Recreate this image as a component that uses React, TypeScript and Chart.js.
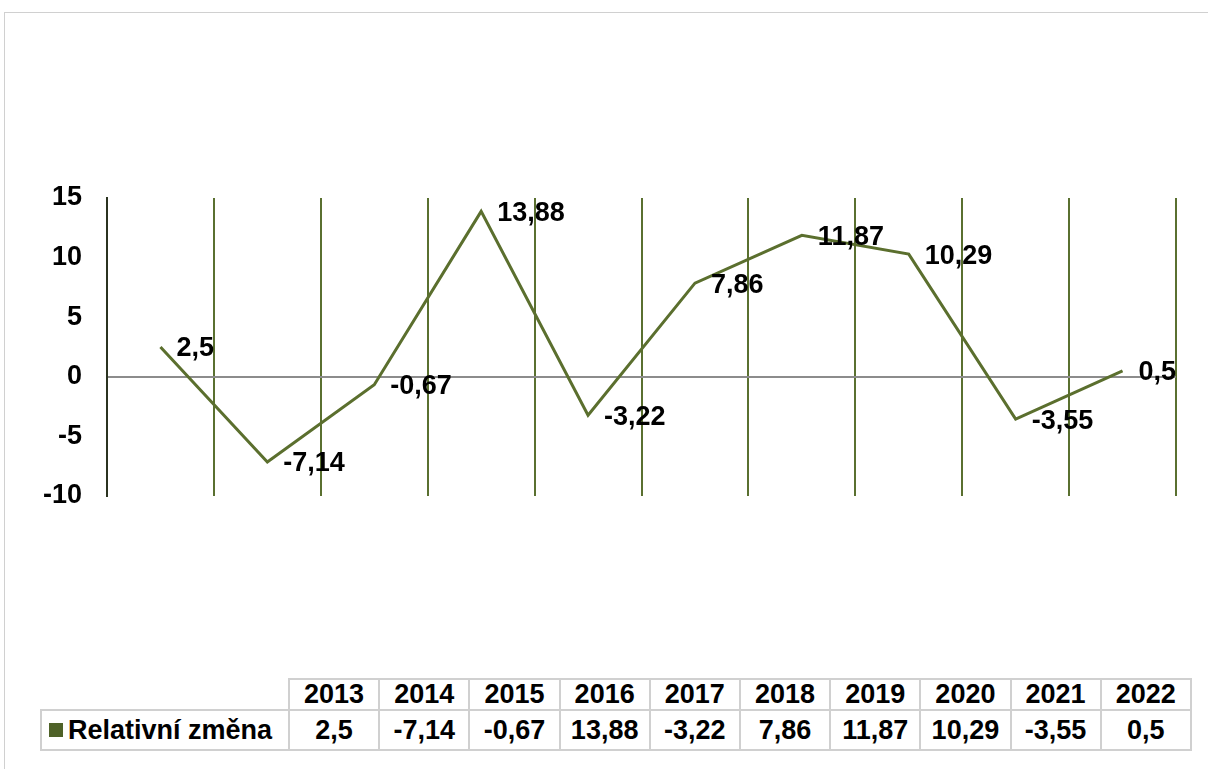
import React, { useEffect, useRef } from "react";
import { Chart, registerables } from "chart.js";

Chart.register(...registerables);

const years = ["2013", "2014", "2015", "2016", "2017", "2018", "2019", "2020", "2021", "2022"];
const values = [2.5, -7.14, -0.67, 13.88, -3.22, 7.86, 11.87, 10.29, -3.55, 0.5];
const seriesName = "Relativní změna";
const yMin = -10;
const yMax = 15;
const yStep = 5;

const FONT = "'Liberation Sans', Arial, sans-serif";
const LINE_COLOR = "#5b6f2e";
const GRID_COLOR = "#5a7030";

const fmt = (v: number) => String(v).replace(".", ",");

const labelPlugin = {
  id: "valueLabels",
  afterDatasetsDraw(chart: any) {
    const ctx = chart.ctx;
    const meta = chart.getDatasetMeta(0);
    ctx.save();
    ctx.font = `bold 27px ${FONT}`;
    ctx.fillStyle = "#000";
    ctx.textAlign = "left";
    ctx.textBaseline = "middle";
    meta.data.forEach((pt: any, i: number) => {
      ctx.fillText(fmt(values[i]), pt.x + 16, pt.y + 2);
    });
    ctx.restore();
  },
};

function ChartCanvas() {
  const ref = useRef<HTMLCanvasElement | null>(null);
  useEffect(() => {
    if (!ref.current) return;
    const chart = new Chart(ref.current, {
      type: "line",
      data: {
        labels: years,
        datasets: [
          {
            label: seriesName,
            data: values,
            borderColor: LINE_COLOR,
            borderWidth: 3,
            pointRadius: 0,
            tension: 0,
            fill: false,
          },
        ],
      },
      options: {
        animation: false,
        responsive: false,
        maintainAspectRatio: false,
        devicePixelRatio: 1,
        layout: { padding: { left: 0, top: 198, right: 32, bottom: 64 } },
        plugins: { legend: { display: false }, tooltip: { enabled: false } },
        scales: {
          x: {
            type: "category",
            offset: true,
            grid: {
              offset: true,
              color: GRID_COLOR,
              lineWidth: 2,
              drawTicks: false,
            },
            border: { display: false },
            ticks: { display: false },
            afterFit: (s: any) => {
              s.height = 0;
            },
          },
          y: {
            min: yMin,
            max: yMax,
            ticks: {
              stepSize: yStep,
              padding: 25,
              color: "#000",
              font: { family: FONT, size: 27, weight: "bold" },
            },
            grid: {
              drawTicks: false,
              lineWidth: 2,
              color: (c: any) => (c.tick && c.tick.value === 0 ? "#8c8c8c" : "rgba(0,0,0,0)"),
            },
            border: { display: true, color: "#2b3320", width: 2 },
            afterFit: (s: any) => {
              s.width = 107;
            },
          },
        },
      },
      plugins: [labelPlugin],
    } as any);
    return () => chart.destroy();
  }, []);
  return (
    <canvas
      ref={ref}
      width={1208}
      height={560}
      style={{ position: "absolute", left: 0, top: 0, width: 1208, height: 560 }}
    />
  );
}

const cellBorder = "2px solid #d0d0d0";

export default function App() {
  const textStyle: React.CSSProperties = {
    fontFamily: FONT,
    fontWeight: "bold",
    fontSize: 27,
    color: "#000",
    textAlign: "center",
    padding: 0,
    whiteSpace: "nowrap",
    overflow: "hidden",
  };
  return (
    <div
      style={{
        position: "fixed",
        left: 0,
        top: 0,
        width: 1208,
        height: 769,
        overflow: "hidden",
        background: "#fff",
      }}
    >
      <div
        style={{
          position: "absolute",
          left: 4,
          top: 12,
          width: 1300,
          height: 900,
          border: "1px solid #d0d0d0",
        }}
      />
      <ChartCanvas />
      <table
        style={{
          position: "absolute",
          left: 40,
          top: 678,
          borderCollapse: "collapse",
          tableLayout: "fixed",
          width: 1150,
        }}
      >
        <colgroup>
          <col style={{ width: 248 }} />
          {years.map((y) => (
            <col key={y} style={{ width: 90.2 }} />
          ))}
        </colgroup>
        <tbody>
          <tr style={{ height: 31 }}>
            <td style={{ ...textStyle, border: "none" }}></td>
            {years.map((y) => (
              <td key={y} style={{ ...textStyle, border: cellBorder, lineHeight: "27px" }}>
                {y}
              </td>
            ))}
          </tr>
          <tr style={{ height: 40 }}>
            <td style={{ ...textStyle, border: cellBorder, textAlign: "left", lineHeight: "36px" }}>
              <span
                style={{
                  display: "inline-block",
                  width: 14,
                  height: 14,
                  background: "#4f6228",
                  marginLeft: 7,
                  marginRight: 5,
                  verticalAlign: "middle",
                  position: "relative",
                  top: -2,
                }}
              />
              {seriesName}
            </td>
            {values.map((v, i) => (
              <td key={i} style={{ ...textStyle, border: cellBorder, lineHeight: "36px" }}>
                {fmt(v)}
              </td>
            ))}
          </tr>
        </tbody>
      </table>
    </div>
  );
}
